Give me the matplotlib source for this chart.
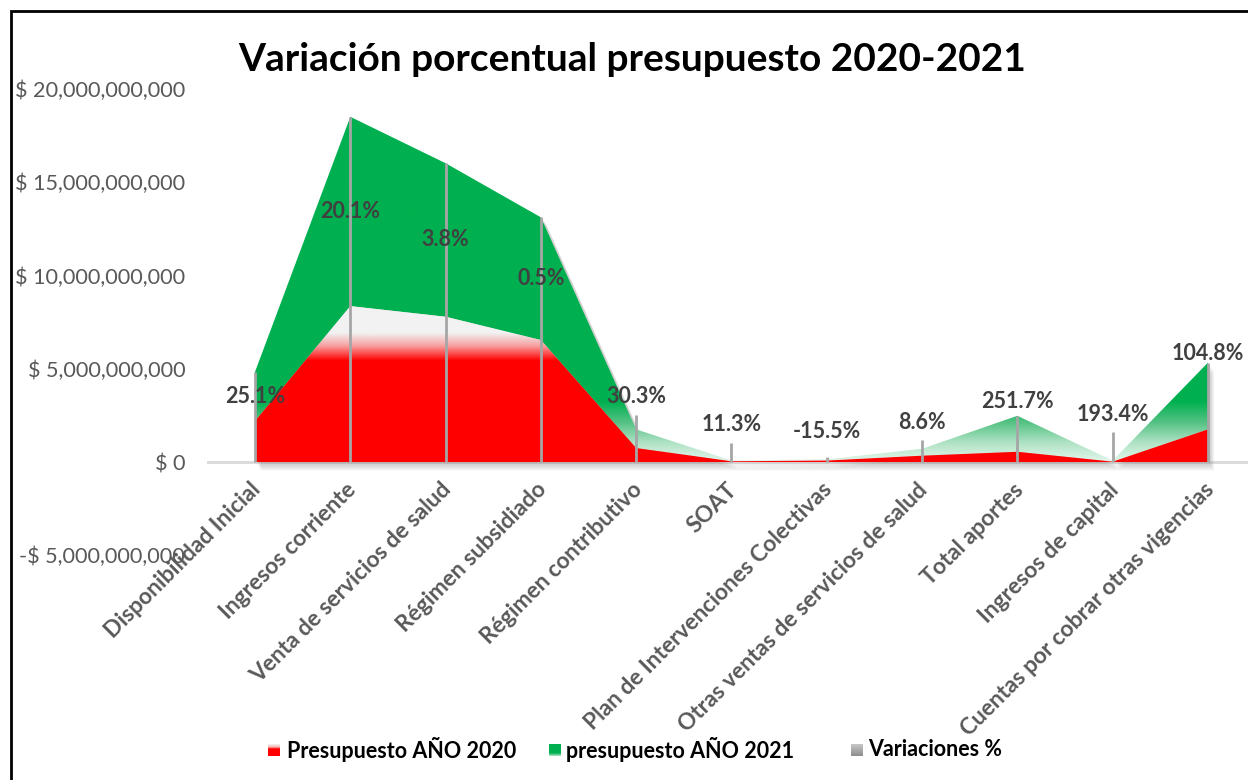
import numpy as np
import matplotlib
matplotlib.use("Agg")
import matplotlib.pyplot as plt
from matplotlib.transforms import ScaledTranslation
from matplotlib.patches import Rectangle
from matplotlib.colors import to_rgba

# ---------------- data ----------------
categorias = ["Disponibilidad Inicial", "Ingresos corriente", "Venta de servicios de salud",
              "Régimen subsidiado", "Régimen contributivo", "SOAT",
              "Plan de Intervenciones Colectivas", "Otras ventas de servicios de salud",
              "Total aportes", "Ingresos de capital", "Cuentas por cobrar otras vigencias"]
presupuesto_2020 = [2.20e9, 8.36e9, 7.79e9, 6.54e9, 0.75e9, 0.04e9, 0.08e9, 0.34e9, 0.55e9, 0.02e9, 1.75e9]
presupuesto_2021 = [2.64e9, 10.15e9, 8.23e9, 6.58e9, 1.00e9, 0.045e9, 0.068e9, 0.37e9, 1.93e9, 0.06e9, 3.58e9]
variaciones = [25.1, 20.1, 3.8, 0.5, 30.3, 11.3, -15.5, 8.6, 251.7, 193.4, 104.8]
y_ticks = [-5e9, 0, 5e9, 10e9, 15e9, 20e9]
titulo = "Variación porcentual presupuesto 2020-2021"
leyenda = ["Presupuesto AÑO 2020", "presupuesto AÑO 2021", "Variaciones %"]

# ---------------- style ----------------
W, H, DPI = 1248, 780, 100
FONT = "Lato"
plt.rcParams["font.family"] = [FONT, "DejaVu Sans"]

fig = plt.figure(figsize=(W / DPI, H / DPI), dpi=DPI)
fig.patch.set_facecolor("white")

ax_left, ax_right = 207.4, 1255.6
ax_top, ax_bot = 89.0, 555.3
ax = fig.add_axes([ax_left / W, 1 - ax_bot / H, (ax_right - ax_left) / W, (ax_bot - ax_top) / H])
ax.set_facecolor("none")

x = np.arange(len(categorias))
r = np.array(presupuesto_2020)
g = np.array(presupuesto_2021)
top = r + g
ymin, ymax = -5e9, 20e9
ax.set_xlim(-0.5, len(categorias) - 0.5)
ax.set_ylim(ymin, ymax)

px_per_unit = (ax_bot - ax_top) / (ymax - ymin)

def px2data(p):
    return p / px_per_unit

# zero line
ax.axhline(0, color="#d9d9d9", lw=2, zorder=1)

# shadow (soft, offset down-right)
for k in range(7):
    off = ScaledTranslation((2 + k * 0.6) / DPI, -(2 + k * 1.0) / DPI, fig.dpi_scale_trans)
    ax.fill_between(x, 0, top, color="#7f7f7f", alpha=0.06, lw=0,
                    transform=ax.transData + off, zorder=2)

def gradient_image(stops, lo, hi, n=600):
    ys = np.linspace(lo, hi, n)
    vals = [s[0] for s in stops]
    cols = np.array([to_rgba(s[1]) for s in stops])
    img = np.zeros((n, 1, 4))
    for c in range(4):
        img[:, 0, c] = np.interp(ys, vals, cols[:, c])
    return img

green_stops = [(0, "#e2f5ea"), (1.0e9, "#b0e3c5"), (2.0e9, "#5cc489"), (3.2e9, "#00b050")]
red_stops = [(0, "#ff0000"), (5.4e9, "#ff0000"), (6.2e9, "#f7a0a0"), (6.9e9, "#f2f2f2"), (20e9, "#f2f2f2")]

# green (stacked on red)
poly_g = ax.fill_between(x, r, top, facecolor="none", lw=0, zorder=3)
im = ax.imshow(gradient_image(green_stops, ymin, ymax), extent=(-0.5, len(categorias) - 0.5, ymin, ymax),
               origin="lower", aspect="auto", zorder=3, interpolation="bilinear")
im.set_clip_path(poly_g.get_paths()[0], transform=ax.transData)

# red
poly_r = ax.fill_between(x, 0, r, facecolor="none", lw=0, zorder=4)
im2 = ax.imshow(gradient_image(red_stops, ymin, ymax), extent=(-0.5, len(categorias) - 0.5, ymin, ymax),
                origin="lower", aspect="auto", zorder=4, interpolation="bilinear")
im2.set_clip_path(poly_r.get_paths()[0], transform=ax.transData)

ax.set_xlim(-0.5, len(categorias) - 0.5)
ax.set_ylim(ymin, ymax)

# drop lines (some extend a little above the area, as in the original)
drop_ext_px = [0, 0, 0, 0, 14, 17, 2, 9, 0, 29, 0]
for i in range(len(categorias)):
    ax.plot([x[i], x[i]], [0, top[i] + px2data(drop_ext_px[i])], color="#a6a6a6", lw=2,
            zorder=6, solid_capstyle="butt")

# percentage labels
label_off_px = [None, None, None, None, 33, 36, 28, 26, 14, 46, 9]
for i, v in enumerate(variaciones):
    if label_off_px[i] is None:
        yl = r[i] + g[i] / 2
    else:
        yl = top[i] + px2data(label_off_px[i])
    ax.text(x[i], yl, f"{v:.1f}%", ha="center", va="center", fontsize=15.5,
            fontweight="bold", color="#404040", zorder=7)

# y axis
ax.set_yticks(y_ticks)
def fmt(v):
    if v < 0:
        return f"-$ {abs(v):,.0f}"
    return f"$ {v:,.0f}"
ax.set_yticklabels([fmt(v) for v in y_ticks])
ax.tick_params(axis="y", length=0, pad=16, labelsize=15.6, labelcolor="#595959")
ax.set_xticks([])
for s in ax.spines.values():
    s.set_visible(False)

# category labels anchored at the zero line
off = ScaledTranslation(-5 / DPI, -17 / DPI, fig.dpi_scale_trans)
for i, c in enumerate(categorias):
    ax.text(x[i], 0, c, rotation=45, ha="right", va="top", rotation_mode="anchor",
            fontsize=16.4, fontweight="bold", color="#595959",
            transform=ax.transData + off, zorder=7, clip_on=False)

# title
fig.text(632.5 / W, 1 - 71 / H, titulo, ha="center", va="baseline", fontsize=28,
         fontweight="bold", color="black")

# legend (drawn by hand to match the original placement)
sq = 12
leg_y = 750
leg_sq_x = [268, 549, 851]
leg_txt_x = [287, 566, 868]
leg_grad = [
    [(0.0, "#ff0000"), (0.6, "#ff0000"), (0.75, "#f8b0b0"), (1.0, "#f2f2f2")],
    [(0.0, "#b5e5c8"), (0.25, "#00b050"), (1.0, "#00b050")],
    [(0.0, "#8c8c8c"), (1.0, "#c8c8c8")],
]
for sx, tx, stops, lab in zip(leg_sq_x, leg_txt_x, leg_grad, leyenda):
    lax = fig.add_axes([sx / W, 1 - (leg_y + sq / 2) / H, sq / W, sq / H])
    lax.imshow(gradient_image(stops, 0, 1, n=50), extent=(0, 1, 0, 1), origin="lower", aspect="auto")
    lax.set_axis_off()
    fig.text(tx / W, 1 - leg_y / H, lab, ha="left", va="center", fontsize=15.5,
             fontweight="bold", color="black")

# chart border
fig.add_artist(Rectangle((11 / W, -0.1), 1.2, 1 - 11 / H + 0.1, transform=fig.transFigure,
                         fill=False, edgecolor="black", lw=2))

fig.savefig("out.png", dpi=DPI)
